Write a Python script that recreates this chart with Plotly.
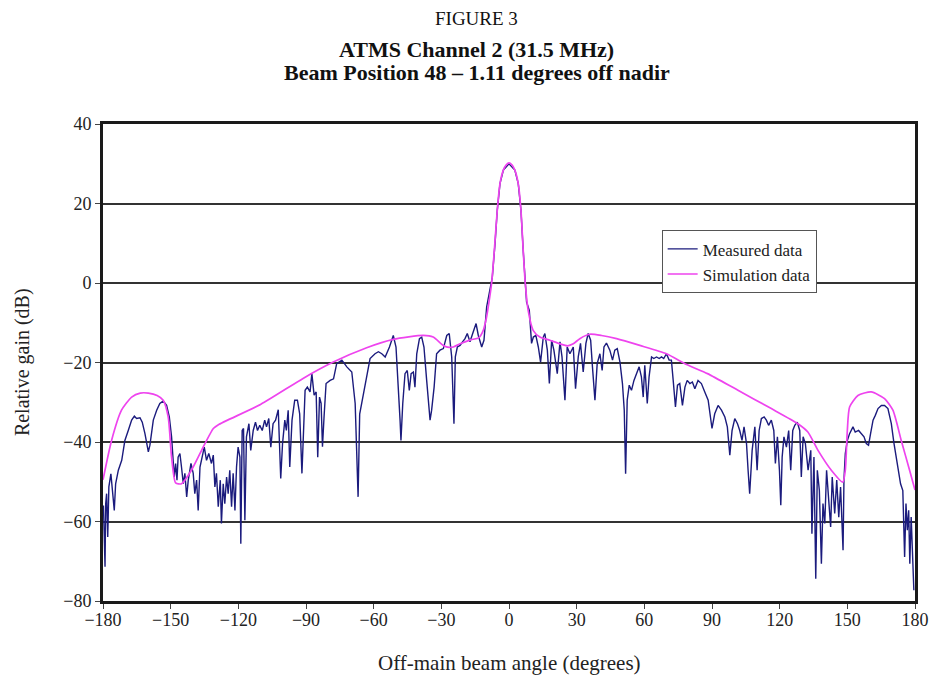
import plotly.graph_objects as go

# ---- Data ----
meas_angle = [
    -179.8, -179.1, -178.8, -178.4, -177.9, -177.4, -176.5, -175.9, -175.0, -174.4,
    -173.2, -171.7, -170.3, -168.8, -167.3, -166.1, -165.1, -163.6, -162.6, -161.4,
    -159.9, -159.2, -157.7, -156.2, -154.8, -153.3, -151.8, -150.6, -149.6, -148.9,
    -148.4, -147.8, -147.2, -146.7, -145.9, -145.2, -144.4, -143.7, -142.9, -142.2,
    -141.0, -140.0, -139.3, -138.5, -137.8, -137.0, -136.0, -135.1, -134.1, -133.1,
    -131.9, -131.1, -130.4, -129.7, -128.9, -128.0, -127.5, -126.7, -126.0, -125.2,
    -124.5, -123.8, -123.0, -122.3, -121.5, -120.8, -120.1, -119.3, -118.9, -118.3,
    -117.7, -117.1, -116.4, -115.3, -114.5, -113.4, -112.4, -111.5, -110.5, -109.4,
    -108.3, -107.5, -106.5, -105.6, -104.6, -103.5, -102.3, -101.2, -100.4, -99.4,
    -98.7, -97.9, -97.2, -96.2, -95.0, -93.8, -92.8, -91.8,
    -90.4, -89.4, -88.2, -87.4, -86.4, -85.5, -84.8, -84.0, -83.3, -82.7,
    -82.0, -81.1, -79.3, -77.8, -76.4, -74.1, -71.9, -69.7, -68.2, -67.5,
    -66.9, -66.2, -64.6, -63.1, -61.6, -59.4, -57.9, -56.4, -54.9, -53.0,
    -51.3, -50.1, -49.0, -48.3, -47.9, -47.1, -46.1, -45.1, -44.2, -43.4,
    -42.4, -41.7, -40.9, -39.7, -38.7, -37.7, -36.5, -35.0, -34.3, -33.2,
    -32.1, -30.6, -29.1, -27.6, -26.5, -25.4, -24.4, -23.8, -22.9, -21.7,
    -20.6, -19.5, -18.5, -17.3, -16.1, -14.6, -13.6, -12.1, -11.1, -9.9,
    -8.5, -7.4, -6.2, -5.2, -4.0, -2.5, 0.0, 2.6, 4.1, 5.3,
    6.3, 7.2, 7.8, 9.0, 10.0, 10.8, 11.9, 13.0, 14.0, 15.2,
    15.9, 17.0, 17.9, 18.9, 19.9, 21.4, 22.6, 23.5, 24.8, 25.8,
    27.0, 28.5, 29.5, 30.7, 31.7, 32.9, 34.1, 35.1, 36.2, 37.0,
    38.1, 39.1, 40.3, 41.3, 42.1, 43.2, 44.7, 45.9, 46.9, 48.0,
    49.2, 50.3, 51.1, 51.7, 52.4, 53.3, 54.3, 55.4, 56.5, 57.7,
    58.7, 59.5, 60.2, 61.3, 62.1, 63.2, 64.2, 65.4, 66.6, 67.6,
    68.6, 69.8, 71.0, 72.0, 72.8, 73.8, 74.7, 75.7, 76.9, 78.0,
    79.0, 80.2, 81.3, 82.4, 83.8, 85.3, 86.8, 88.3,
    90.0, 91.2, 92.7, 94.2, 95.7, 96.8, 97.9, 98.9, 100.1, 101.3,
    102.3, 103.3, 104.2, 105.3, 106.0, 106.7, 107.8, 109.0, 110.0, 110.9,
    111.9, 113.1, 114.1, 115.1, 116.3, 117.4, 118.1, 119.0, 119.9, 120.5,
    121.1, 121.9, 123.0, 124.0, 124.9, 125.8, 126.7, 127.8, 128.9, 129.6,
    130.4, 131.4, 132.6, 133.8, 134.3, 135.2, 136.0, 136.7, 137.6, 138.5,
    139.2, 140.0, 140.8, 141.7, 142.6, 143.3, 144.4, 145.3, 146.2, 147.0,
    147.6, 148.1, 148.5, 149.1, 150.0, 151.0, 152.5, 153.5, 155.0, 156.2,
    157.4, 158.4, 159.4, 160.3, 161.4, 162.4, 163.6, 165.1, 166.5, 168.0,
    169.5, 170.7, 171.7, 172.4, 173.6, 174.6, 175.4, 176.0, 176.6, 177.2,
    177.7, 178.3, 178.9, 179.5,
]
meas_gain = [
    -56.0, -71.4, -55.5, -53.0, -63.9, -51.3, -48.0, -52.2, -57.2, -50.5,
    -47.1, -44.6, -39.6, -37.1, -34.5, -33.5, -34.1, -33.9, -35.0, -37.9,
    -42.5, -40.8, -34.5, -32.0, -30.3, -29.7, -30.8, -33.7, -38.7, -44.6,
    -48.8, -45.4, -49.6, -43.8, -42.9, -46.3, -50.5, -47.9, -53.8, -49.6,
    -45.4, -47.9, -53.0, -49.6, -57.2, -46.3, -43.8, -41.3, -44.6, -42.9,
    -45.4, -43.3, -51.3, -47.9, -56.3, -49.6, -60.5, -50.5, -55.5, -48.8,
    -53.0, -47.1, -56.3, -47.9, -57.2, -46.3, -41.3, -43.8, -65.6, -37.1,
    -36.6, -59.7, -38.7, -35.4, -42.1, -37.1, -35.0, -37.1, -35.8, -37.1,
    -34.5, -36.2, -34.1, -41.3, -35.4, -34.5, -31.9, -49.2, -40.4, -34.5,
    -37.1, -32.0, -46.3, -34.5, -29.5, -29.5, -32.9, -47.9,
    -27.0, -26.2, -27.4, -22.8, -28.2, -27.4, -43.8, -28.7, -30.3, -41.2,
    -33.7, -25.3, -24.5, -24.1, -20.3, -19.4, -21.1, -22.4, -30.3, -42.0,
    -53.8, -33.0, -27.8, -22.8, -19.0, -17.8, -17.3, -17.8, -18.6, -16.1,
    -13.2, -16.1, -26.2, -34.5, -39.6, -30.3, -22.8, -22.0, -27.0, -22.8,
    -22.4, -26.2, -17.8, -14.0, -13.6, -16.1, -24.5, -34.5, -32.0, -26.2,
    -17.8, -16.9, -16.5, -13.2, -12.7, -18.6, -35.4, -18.6, -16.1, -15.7,
    -14.8, -14.0, -12.7, -14.8, -12.7, -10.2, -13.2, -16.1, -14.4, -6.0,
    -1.8, 1.5, 9.9, 18.3, 25.0, 28.4, 30.0, 28.4, 25.0, 18.3,
    8.2, 0.0, -4.8, -6.9, -15.2, -13.6, -13.2, -16.1, -19.9, -13.6,
    -12.7, -16.9, -25.3, -14.4, -16.9, -22.8, -14.8, -18.6, -29.5, -16.1,
    -17.8, -16.1, -26.6, -18.6, -15.2, -22.4, -15.2, -12.7, -14.4, -21.1,
    -29.5, -20.3, -17.8, -22.0, -16.1, -15.1, -16.9, -19.4, -16.9, -16.5,
    -19.9, -25.3, -32.0, -48.0, -29.5, -25.7, -27.0, -24.5, -22.8, -21.1,
    -23.6, -28.7, -20.7, -30.3, -23.6, -18.6, -19.0, -18.6, -19.0, -18.6,
    -19.0, -17.8, -19.4, -19.4, -24.5, -31.2, -25.7, -25.3, -30.8, -26.2,
    -24.5, -25.3, -24.9, -26.6, -24.5, -25.3, -27.4, -29.5,
    -36.6, -32.9, -30.8, -32.0, -33.7, -36.2, -43.3, -37.1, -34.1, -35.4,
    -37.1, -39.6, -36.2, -40.4, -47.1, -53.0, -42.1, -36.2, -47.1, -37.1,
    -34.1, -33.7, -34.5, -35.8, -34.5, -37.1, -45.4, -38.7, -47.1, -55.9,
    -43.8, -38.7, -41.3, -37.1, -47.1, -37.1, -35.8, -35.0, -37.1, -48.8,
    -38.7, -40.4, -47.1, -42.1, -63.1, -43.8, -74.4, -47.1, -52.2, -70.6,
    -55.5, -60.5, -47.1, -53.8, -61.4, -48.8, -58.0, -49.6, -58.9, -51.3,
    -61.4, -67.2, -49.6, -42.9, -39.6, -37.9, -36.2, -37.5, -37.1, -37.9,
    -38.7, -40.4, -40.8, -37.9, -34.5, -33.3, -31.6, -30.8, -30.8, -31.6,
    -35.4, -40.4, -43.8, -45.4, -50.5, -52.2, -68.9, -55.5, -62.2, -57.2,
    -70.6, -58.9, -66.4, -77.3,
]

sim_angle = [
    -180.0, -176.2, -171.8, -167.3, -163.5, -159.9, -156.0, -153.3, -151.1, -149.6,
    -147.8, -145.2, -140.8, -136.3, -131.1, -129.0, -110.0, -91.3, -77.9, -63.1,
    -51.3, -38.0, -33.6, -29.1, -26.5, -24.7, -21.7, -17.0, -13.5, -11.4,
    -10.1, -9.2, -7.7, -6.5, -5.2, -4.0, -2.5, -1.2, 0.0, 1.3,
    2.6, 4.1, 5.3, 6.3, 7.2, 8.5, 10.7, 13.7, 18.1, 22.6,
    26.0, 28.5, 31.4, 35.8, 41.0, 47.7, 58.0, 69.8, 78.7, 88.0,
    101.5, 116.3, 128.1, 132.5, 137.0, 142.9, 148.0, 149.1, 150.0, 151.0,
    154.7, 160.6, 166.5, 170.2, 173.9, 177.6, 180.0,
]
sim_gain = [
    -49.5, -39.6, -32.0, -28.7, -27.7, -27.7, -28.3, -29.5, -33.7, -43.8,
    -50.3, -50.5, -47.1, -42.1, -36.6, -35.7, -30.5, -24.0, -19.9, -16.3,
    -14.2, -13.2, -13.6, -15.7, -16.2, -16.1, -15.3, -14.3, -13.8, -11.9,
    -9.0, -6.0, 0.0, 8.2, 18.3, 25.0, 28.4, 29.7, 30.2, 29.7,
    28.4, 25.0, 18.3, 8.2, 0.0, -6.9, -11.9, -13.6, -14.4, -15.3,
    -15.8, -15.3, -14.0, -12.9, -13.2, -14.0, -15.7, -17.8, -20.5, -22.8,
    -27.0, -31.6, -35.4, -37.5, -42.1, -47.1, -50.1, -47.1, -37.1, -31.2,
    -28.3, -27.4, -29.1, -32.0, -39.6, -47.1, -52.1,
]

x_ticks = [-180, -150, -120, -90, -60, -30, 0, 30, 60, 90, 120, 150, 180]
y_ticks = [-80, -60, -40, -20, 0, 20, 40]

FONT = "Liberation Serif, Times New Roman, serif"

fig = go.Figure()
fig.add_trace(go.Scatter(
    x=meas_angle, y=meas_gain, mode="lines", name="Measured data",
    line=dict(color="#1b1b7d", width=1.4),
))
fig.add_trace(go.Scatter(
    x=sim_angle, y=sim_gain, mode="lines", name="Simulation data",
    line=dict(color="#ee44ee", width=1.7, shape="spline", smoothing=0.6),
))

fig.update_layout(
    width=931, height=675,
    margin=dict(l=103, r=16, t=124, b=74),
    paper_bgcolor="white", plot_bgcolor="white",
    font=dict(family=FONT, size=18, color="#222"),
    showlegend=True,
    legend=dict(
        x=0.688, y=0.777, xanchor="left", yanchor="top",
        bgcolor="white", bordercolor="#555", borderwidth=1,
        font=dict(family=FONT, size=17, color="#222"),
        itemwidth=30, tracegroupgap=0,
    ),
)
fig.update_xaxes(
    range=[-180, 180], tickvals=x_ticks, automargin=False,
    showgrid=False, zeroline=False,
    showline=True, linewidth=3, linecolor="#1a1a1a", mirror=True,
    ticks="outside", ticklen=5, tickwidth=1.2, tickcolor="#444",
    ticklabelstandoff=-5,
    tickfont=dict(family=FONT, size=18, color="#222"),
)
fig.update_yaxes(
    range=[-80, 40], tickvals=y_ticks, automargin=False,
    showgrid=True, gridcolor="#333", gridwidth=1.5, zeroline=False,
    showline=True, linewidth=3, linecolor="#1a1a1a", mirror=True,
    ticks="outside", ticklen=5, tickwidth=1.2, tickcolor="#444",
    tickfont=dict(family=FONT, size=18, color="#222"),
)

TITLE_X = 0.46
annots = [
    dict(text="FIGURE 3", y=1.222, size=19),
    dict(text="<b>ATMS Channel 2 (31.5 MHz)</b>", y=1.157, size=22),
    dict(text="<b>Beam Position 48 – 1.11 degrees off nadir</b>", y=1.108, size=22),
]
for a in annots:
    fig.add_annotation(
        text=a["text"], xref="paper", yref="paper", x=TITLE_X, y=a["y"],
        xanchor="center", yanchor="middle", showarrow=False,
        font=dict(family=FONT, size=a["size"], color="#111"),
    )
fig.add_annotation(
    text="Off-main beam angle (degrees)", xref="paper", yref="paper",
    x=0.5, y=-0.13, xanchor="center", yanchor="middle", showarrow=False,
    font=dict(family=FONT, size=21, color="#222"),
)
fig.add_annotation(
    text="Relative gain (dB)", xref="paper", yref="paper",
    x=-0.099, y=0.5, xanchor="center", yanchor="middle", showarrow=False,
    textangle=-90, font=dict(family=FONT, size=20, color="#222"),
)

fig.write_html(
    "out.html",
    config={"displayModeBar": False},
    post_script="document.body.style.margin='0px';document.body.style.padding='0px';",
)
